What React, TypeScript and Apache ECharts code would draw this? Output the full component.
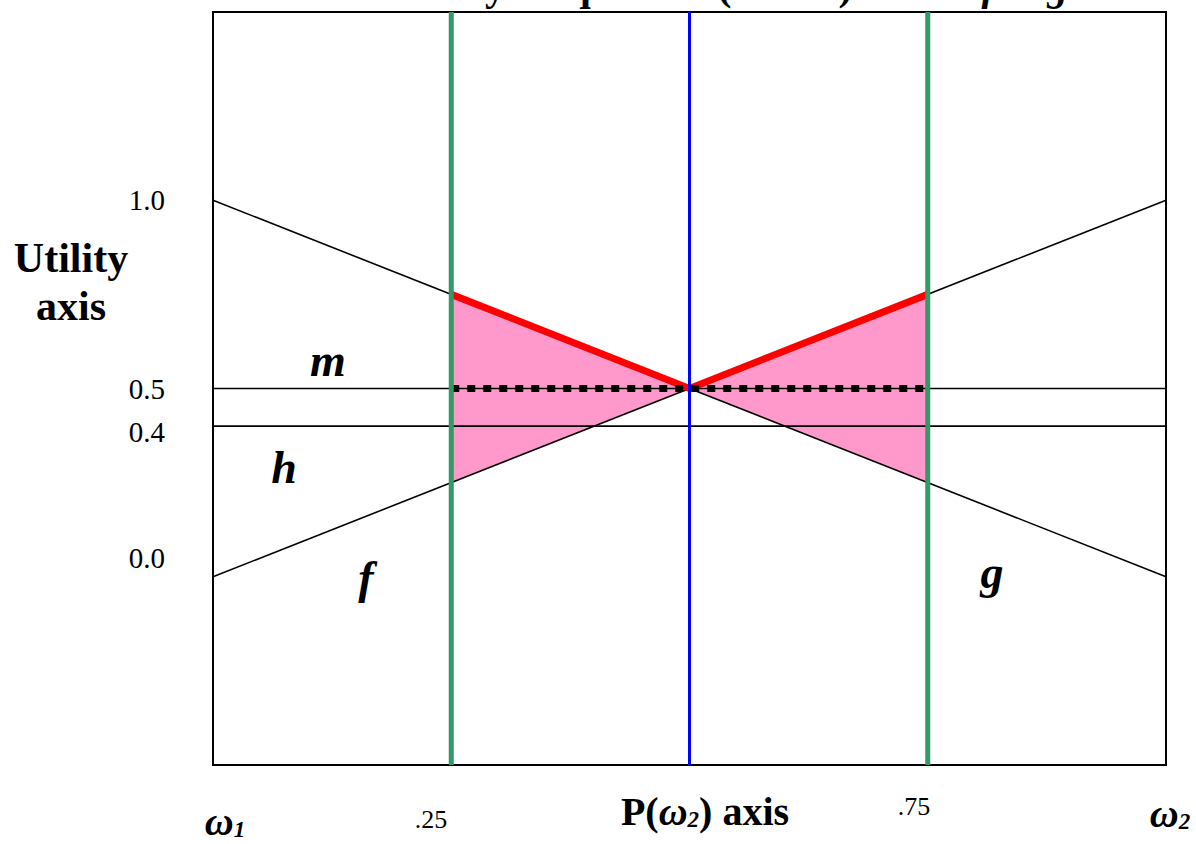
import React, { useEffect, useRef } from "react";
import * as echarts from "echarts";

// Probability of ω2 along the horizontal axis, utility along the vertical axis.
const pRange = [0, 1];
const utilityRange = [-0.5, 1.5];

// Utility lines of the four options.
const fLine = [[0, 0], [1, 1]];
const gLine = [[0, 1], [1, 0]];
const mLine = [[0, 0.5], [1, 0.5]];
const hLine = [[0, 0.4], [1, 0.4]];

// Credal interval for P(ω2) and the midpoint.
const lowerP = 0.25;
const upperP = 0.75;
const midP = 0.5;

// Shaded wedges between f and g inside the interval.
const wedges = [
  [0.25, 0.75, 0.5, 0.5, 0.25, 0.25],
  [0.75, 0.75, 0.5, 0.5, 0.75, 0.25],
];

// Upper envelope (max of f, g) over the interval.
const upperEnvelope = [[0.25, 0.75], [0.5, 0.5], [0.75, 0.75]];
// m over the interval.
const mSegment = [[0.25, 0.5], [0.75, 0.5]];

// Tick labels.
const yTickValues = [0, 0.4, 0.5, 1.0];
const yTickLabels = ["0.0", "0.4", "0.5", "1.0"];
const yTickStyles = ["lo", "dn", "n", "n"];
const xTickLabels = [".25", ".75"];

const SERIF = '"Liberation Serif", "Times New Roman", Times, serif';

export default function App() {
  const ref = useRef<HTMLDivElement>(null);

  useEffect(() => {
    if (!ref.current) return;
    const chart = echarts.init(ref.current, null, { renderer: "svg" });

    const thin = (name: string, data: number[][]) => ({
      name,
      type: "line",
      data,
      showSymbol: false,
      silent: true,
      z: 3,
      lineStyle: { color: "#000", width: 1.6 },
    });

    const vertical = (name: string, p: number, color: string, width: number, z: number) => ({
      name,
      type: "line",
      data: [[p, utilityRange[0]], [p, utilityRange[1]]],
      showSymbol: false,
      silent: true,
      z,
      lineStyle: { color, width, cap: "butt" },
    });

    const tickFont = { fontFamily: SERIF, fontSize: 29, color: "#000" };

    const omega = (sub: string, x: number, y: number) => ({
      type: "text",
      style: {
        x,
        y,
        text: `{w|ω}{s|${sub}}`,
        align: "center",
        verticalAlign: "middle",
        rich: {
          w: { fontFamily: SERIF, fontWeight: "bold", fontStyle: "italic", fontSize: 40, lineHeight: 40, fill: "#000" },
          s: { fontFamily: SERIF, fontWeight: "bold", fontStyle: "italic", fontSize: 23, lineHeight: 22, verticalAlign: "bottom", fill: "#000" },
        },
      },
    });

    const option: any = {
      animation: false,
      backgroundColor: "#fff",
      grid: {
        left: 213,
        top: 12,
        width: 953,
        height: 753,
        show: true,
        borderColor: "#000",
        borderWidth: 2,
        backgroundColor: "transparent",
      },
      xAxis: {
        type: "value",
        min: pRange[0],
        max: pRange[1],
        interval: 0.25,
        axisLine: { show: false },
        axisTick: { show: false },
        splitLine: { show: false },
        axisLabel: { show: false },
      },
      yAxis: {
        type: "value",
        min: utilityRange[0],
        max: utilityRange[1],
        interval: 0.1,
        axisLine: { show: false },
        axisTick: { show: false },
        splitLine: { show: false },
        axisLabel: {
          margin: 48,
          formatter: (v: number) => {
            const i = yTickValues.findIndex((t) => Math.abs(t - v) < 1e-6);
            return i >= 0 ? `{${yTickStyles[i]}|${yTickLabels[i]}}` : "";
          },
          rich: {
            n: { ...tickFont },
            lo: { ...tickFont, padding: [0, 0, 38, 0] },
            dn: { ...tickFont, padding: [12, 0, 0, 0] },
          },
        },
      },
      series: [
        {
          name: "wedges",
          type: "custom",
          silent: true,
          z: 1,
          encode: { x: [0, 2, 4], y: [1, 3, 5] },
          data: wedges,
          renderItem: (params: any, api: any) => {
            const pts = [0, 1, 2].map((k) =>
              api.coord([api.value(2 * k), api.value(2 * k + 1)])
            );
            return {
              type: "polygon",
              shape: { points: pts },
              style: { fill: "#FF99CC" },
            };
          },
        },
        thin("f", fLine),
        thin("g", gLine),
        thin("m", mLine),
        thin("h", hLine),
        {
          name: "upper envelope",
          type: "line",
          data: upperEnvelope,
          showSymbol: false,
          silent: true,
          z: 4,
          lineStyle: { color: "#FF0000", width: 7, join: "miter" },
        },
        {
          name: "m on interval",
          type: "line",
          data: mSegment,
          showSymbol: false,
          silent: true,
          z: 5,
          lineStyle: { color: "#000", width: 7, type: [8, 8], cap: "butt" },
        },
        vertical("lower", lowerP, "#339966", 5, 6),
        vertical("upper", upperP, "#339966", 5, 6),
        vertical("mid", midP, "#0000FF", 3, 7),
      ],
      graphic: [
        {
          type: "text",
          z: 10,
          style: {
            x: 712,
            y: 6,
            text: "{t|Sets Bayes equal for (mixed) across }{i|f & g}",
            align: "center",
            verticalAlign: "bottom",
            rich: {
              t: { fontFamily: SERIF, fontWeight: "bold", fontSize: 41, fill: "#000" },
              i: { fontFamily: SERIF, fontWeight: "bold", fontStyle: "italic", fontSize: 41, fill: "#000" },
            },
          },
        },
        {
          type: "text",
          style: {
            x: 71,
            y: 282,
            text: "Utility\naxis",
            align: "center",
            verticalAlign: "middle",
            font: `bold 42px ${SERIF}`,
            lineHeight: 48,
            fill: "#000",
          },
        },
        ...[
          ["m", 328, 360],
          ["h", 284, 467],
          ["f", 366, 577],
          ["g", 992, 572],
        ].map(([t, x, y]) => ({
          type: "text",
          z: 10,
          style: {
            x,
            y,
            text: t,
            align: "center",
            verticalAlign: "middle",
            font: `italic bold 46px ${SERIF}`,
            fill: "#000",
          },
        })),
        {
          type: "text",
          style: {
            x: 431,
            y: 819,
            text: xTickLabels[0],
            align: "center",
            verticalAlign: "middle",
            font: `26px ${SERIF}`,
            fill: "#000",
          },
        },
        {
          type: "text",
          style: {
            x: 914,
            y: 806,
            text: xTickLabels[1],
            align: "center",
            verticalAlign: "middle",
            font: `26px ${SERIF}`,
            fill: "#000",
          },
        },
        {
          type: "text",
          style: {
            x: 705,
            y: 811,
            text: "{b|P(}{w|ω}{s|2}{b|) axis}",
            align: "center",
            verticalAlign: "middle",
            rich: {
              b: { fontFamily: SERIF, fontWeight: "bold", fontSize: 40, lineHeight: 40, fill: "#000" },
              w: { fontFamily: SERIF, fontWeight: "bold", fontStyle: "italic", fontSize: 40, lineHeight: 40, fill: "#000" },
              s: { fontFamily: SERIF, fontWeight: "bold", fontStyle: "italic", fontSize: 23, lineHeight: 22, verticalAlign: "bottom", fill: "#000" },
            },
          },
        },
        omega("1", 225, 821),
        omega("2", 1170, 813),
      ],
    };

    chart.setOption(option);
    return () => chart.dispose();
  }, []);

  return (
    <div
      ref={ref}
      style={{ position: "fixed", left: 0, top: 0, width: 1196, height: 844 }}
    />
  );
}
